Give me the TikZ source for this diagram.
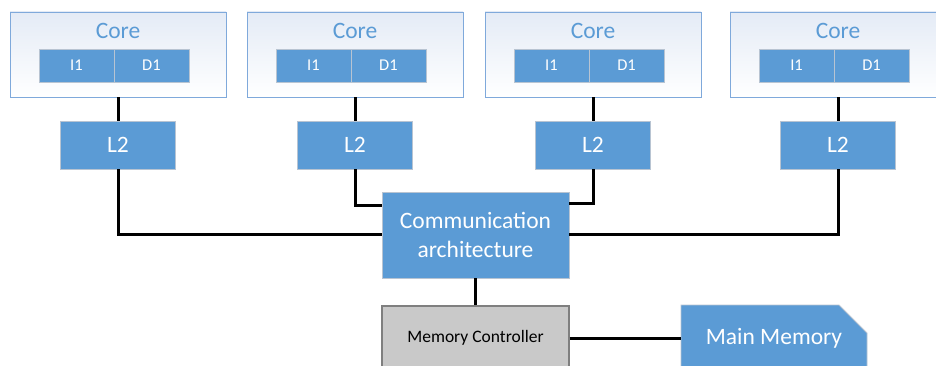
\documentclass[tikz,border=0pt]{standalone}
\usepackage{fontspec}
\setmainfont{Carlito}
\usetikzlibrary{shapes.misc}
\definecolor{accent}{HTML}{5B9BD5}
\definecolor{corefill}{HTML}{E4EBF6}
\definecolor{coreedge}{HTML}{7FA9DB}
\definecolor{cacheedge}{HTML}{B8C4D2}
\definecolor{ctrlfill}{HTML}{C9C9C9}
\definecolor{ctrledge}{HTML}{7F7F7F}
\tikzset{
  corebox/.style={draw=coreedge, line width=0.9pt, top color=corefill, bottom color=white,
    minimum width=216pt, minimum height=85pt, inner sep=0pt},
  coretitle/.style={text=accent, font=\fontsize{23.5}{26}\selectfont, inner sep=0pt},
  cachebox/.style={fill=accent, draw=cacheedge, line width=0.8pt, text=white,
    font=\fontsize{16.5}{18}\selectfont, minimum width=75pt, minimum height=33pt, inner sep=0pt},
  bluebox/.style={fill=accent, draw=cacheedge, line width=0.8pt, text=white,
    font=\fontsize{23.5}{29}\selectfont, inner sep=0pt, align=center},
  ctrlbox/.style={fill=ctrlfill, draw=ctrledge, line width=1.1pt, text=black,
    font=\fontsize{17.5}{20}\selectfont, minimum width=187pt, minimum height=64pt, inner sep=0pt},
  wire/.style={draw=black, line width=3pt},
}
\begin{document}
\begin{tikzpicture}[x=1pt,y=-1pt]
\useasboundingbox (0,0) rectangle (936,366);
\clip (0,0) rectangle (936,366);

% four cores, each with split L1 caches and a private L2
\foreach \i/\cx in {a/118, b/355, c/593, d/838} {
  \node[corebox] (core\i) at (\cx,54.5) {};
  \node[coretitle] (title\i) at (\cx,31) {Core};
  \node[cachebox] (icache\i) at (\cx-41.5,65.5) {I1};
  \node[cachebox] (dcache\i) at (\cx+33.5,65.5) {D1};
  \node[bluebox, minimum width=115pt, minimum height=48pt] (ltwo\i) at (\cx,145) {L2};
  \draw[wire] (core\i.south) -- (ltwo\i.north);
}

% interconnect
\node[bluebox, minimum width=187pt, minimum height=86pt] (comm) at (475.5,235)
  {Communication\\architecture};

\coordinate (rowhighL) at (0,205);
\coordinate (rowhighR) at (0,203);
\coordinate (rowlow) at (0,234);

\draw[wire] (ltwoa.south) |- (comm.west |- rowlow);
\draw[wire] (ltwob.south) |- (comm.west |- rowhighL);
\draw[wire] (ltwoc.south) |- (comm.east |- rowhighR);
\draw[wire] (ltwod.south) |- (comm.east |- rowlow);

% memory side
\node[ctrlbox] (mc) at (475.5,338) {Memory Controller};
\node[bluebox, chamfered rectangle, chamfered rectangle corners=north east,
  chamfered rectangle xsep=18pt, chamfered rectangle ysep=18pt,
  minimum width=186pt, minimum height=66pt] (mm) at (774,338) {Main Memory};

\draw[wire] (comm.south) -- (mc.north);
\draw[wire] (mc.east) -- (mm.west);
\end{tikzpicture}
\end{document}
